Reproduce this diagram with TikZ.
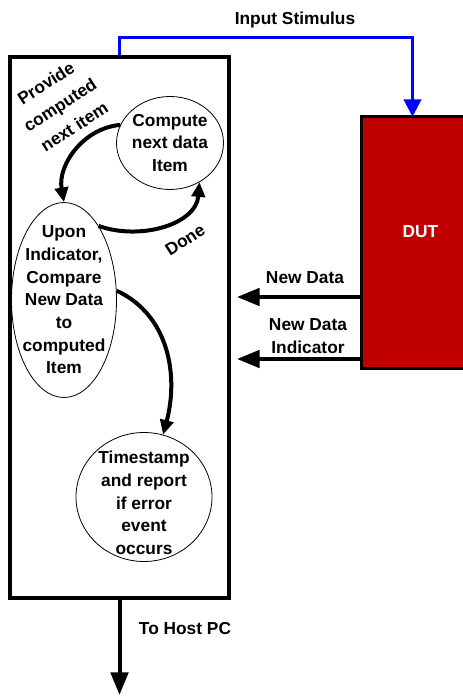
\documentclass[tikz,border=0pt]{standalone}
\usepackage{fontspec}
\setmainfont{Liberation Sans}
\usetikzlibrary{arrows.meta,shapes.geometric}
\definecolor{dutred}{HTML}{C00000}
\definecolor{wireblue}{HTML}{0000FF}
\tikzset{
  every node/.style={font=\bfseries\fontsize{13}{17}\selectfont, align=center},
  bubble/.style={draw, ellipse, line width=0.6pt, inner sep=0pt},
  sig/.style={line width=3pt, -{Triangle[length=17pt,width=13pt]}},
  flow/.style={line width=3pt, -{Triangle[length=11pt,width=10pt]}},
}
\begin{document}
\begin{tikzpicture}[x=0.75pt,y=0.75pt]
\useasboundingbox (0,0) rectangle (463,696);

% checker box
\node[draw, line width=3pt, minimum width=164pt, minimum height=406pt] (tester) at (119.5,368.5) {};

% device under test
\node[fill=dutred, inner sep=0pt, minimum width=75.75pt, minimum height=188.25pt,
  label={[text=white, xshift=6pt, yshift=8pt]center:DUT}] (dut) at (412.5,453.5) {};
\draw[line width=2.5pt] (dut.north east) -- (dut.north west) -- (dut.south west) -- (dut.south east);

% stimulus
\coordinate (stimtop) at (295,658);
\draw[wireblue, line width=2.25pt, -{Triangle[length=13pt,width=13pt]}] (tester.north) |- (stimtop) -| (dut.north);
\node (stimlabel) at (295,676) {Input Stimulus};

% data back from the DUT
\coordinate (ndtip) at (237,399);
\draw[sig] (dut.west |- ndtip) -- (ndtip);
\node (ndlabel) at (305,418) {New Data};

\coordinate (inditip) at (237,337);
\draw[sig] (dut.west |- inditip) -- (inditip);
\node (indlabel) at (308,360) {New Data\\Indicator};

% the three steps
\node[bubble, minimum width=80.25pt, minimum height=69.75pt,
  label={center:Compute\\next data\\Item}] (compute) at (170,553) {};
\node[bubble, minimum width=78.75pt, minimum height=146.25pt,
  label={center:Upon\\Indicator,\\Compare\\New Data\\to\\computed\\Item}] (upon) at (64,396) {};
\node[bubble, minimum width=102pt, minimum height=96.75pt,
  label={[yshift=-4.5pt]center:Timestamp\\and report\\if error\\event\\occurs}] (report) at (144,199) {};

\draw[flow] (compute.160) to[out=185,in=100] (upon.north);
\node[rotate=33, font=\bfseries\fontsize{13}{19.5}\selectfont] (provide) at (60,591) {Provide\\computed\\next item};

\draw[flow] (upon.65) to[out=-20,in=-95] (compute.-53);
\node[rotate=33] (donelabel) at (185,456) {Done};

\draw[flow] (upon.10) to[out=-25,in=75] (report.73);

% output
\coordinate (hostpc) at (119.5,1);
\draw[sig, -{Triangle[length=17pt,width=13pt]}] (tester.south) -- (hostpc);
\node (hostlabel) at (185,67) {To Host PC};
\end{tikzpicture}
\end{document}
